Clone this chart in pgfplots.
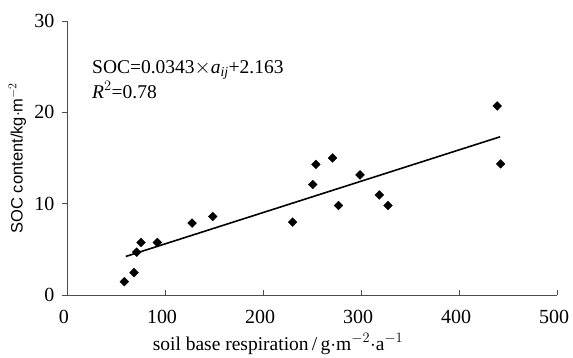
\documentclass[border=0pt]{standalone}
\usepackage{pgfplots}
\pgfplotsset{compat=1.18}
\usepackage{fontspec}
\setmainfont{Liberation Serif}
\setsansfont{Liberation Sans}
\begin{document}
\fontsize{19.5}{24}\selectfont
\begin{tikzpicture}
\begin{axis}[
  name=ax,
  at={(0,0)}, anchor=south west,
  scale only axis,
  width=490pt, height=274pt,
  xmin=0, xmax=500, ymin=0, ymax=30,
  axis lines*=left,
  axis line style={line width=0.8pt, color=black!70},
  xtick={0,100,...,500}, ytick={0,10,20,30},
  x tick style={line width=0.8pt, color=black!70},
  y tick style={line width=0.8pt, color=black!70},
  tick align=outside,
  xtick align=inside,
  major tick length=5pt,
  ticklabel style={font=\fontsize{20}{22}\selectfont},
  /pgf/number format/assume math mode=true,
  xticklabel style={yshift=-9pt, xshift=-3pt},
  yticklabel style={xshift=-1pt},
  xlabel={soil base respiration\,/\,g$\cdot$m$^{-2}\cdot$a$^{-1}$},
  ylabel={SOC content/kg$\cdot$m$^{-2}$},
  xlabel style={font=\fontsize{19.5}{22}\selectfont, yshift=4pt, xshift=-34pt},
  ylabel style={font=\sffamily\fontsize{16.5}{20}\selectfont, yshift=-5pt},
  clip=false,
]
\addplot[only marks, mark=square*, mark size=3.1pt, mark options={rotate=45, fill=black, draw=black}] coordinates {
(58.5,1.46) (68.4,2.45) (71.1,4.69) (75.5,5.75) (92.2,5.75)
(127.6,7.87) (148.7,8.6) (230.3,7.98) (250.7,12.1) (254,14.3)
(271,15.0) (277,9.8) (299,13.15) (318.7,10.95) (327.6,9.8)
(439,20.7) (442.5,14.36)
};
\addplot[line width=1.6pt, black] coordinates {(60,4.221) (442,17.324)};
\node[anchor=west, align=left, font=\fontsize{19.5}{25}\selectfont, inner sep=0pt] at (axis cs:25.5,23.6)
  {SOC=0.0343$\times$\textit{a}$_{\mathit{ij}}$+2.163\\\textit{R}$^2$=0.78};
\end{axis}
\pgfresetboundingbox
\path[use as bounding box] ([xshift=-67pt,yshift=-63pt]ax.south west) rectangle ([xshift=16pt,yshift=21pt]ax.north east);
\end{tikzpicture}
\end{document}
